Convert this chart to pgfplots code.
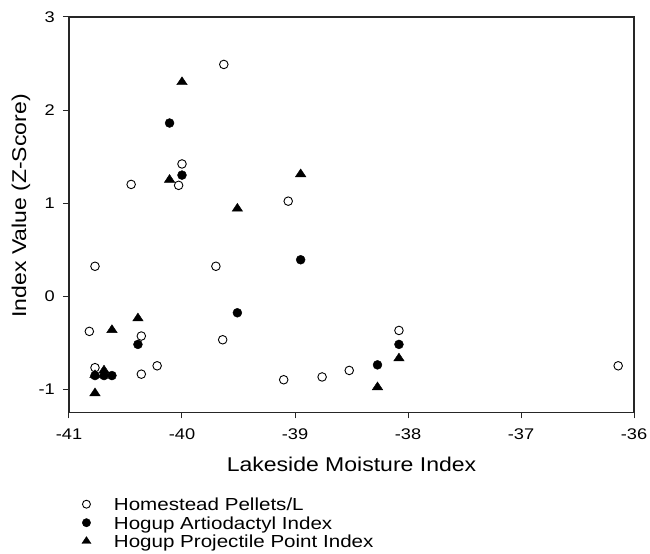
\documentclass[border=0pt]{standalone}
\usepackage{fontspec}
\setmainfont{Liberation Sans}
\newfontfamily\tickfont[FakeStretch=1.18]{Liberation Sans}
\newfontfamily\labfont[FakeStretch=1.155]{Liberation Sans}
\newfontfamily\legfont[FakeStretch=1.18]{Liberation Sans}
\usepackage{pgfplots}
\pgfplotsset{compat=1.18}

% one mark per legend row, raised to the middle of the text line
\pgfplotsset{
  markkey/.style={legend image code/.code={%
    \path (-5bp,0bp) (27bp,0bp);
    \draw[##1] plot coordinates {(0bp,6.5bp)};}},
}

\begin{document}
\begin{tikzpicture}
\useasboundingbox (-69bp,-141.7bp) rectangle (581bp,412.3bp);
\begin{axis}[
  at={(0,0)}, anchor=south west,
  scale only axis,
  width=565bp, height=395.3bp,
  xmin=-41, xmax=-36,
  ymin=-1.25, ymax=3,
  xtick={-41,-40,-39,-38,-37,-36},
  ytick={-1,0,1,2,3},
  tick pos=left,
  tick align=outside,
  major tick length=6bp,
  axis line style={black!85, line width=1.1bp},
  tick style={black!85, line width=1bp},
  /pgf/number format/assume math mode=true,
  ticklabel style={font=\tickfont\fontsize{15.5}{18}\selectfont, inner sep=0pt},
  xticklabel style={yshift=-10bp},
  yticklabel style={xshift=-8bp},
  xlabel={Lakeside Moisture Index},
  ylabel={Index Value (Z-Score)},
  xlabel style={font=\labfont\fontsize{20}{23}\selectfont,
    at={(axis description cs:0.5,0)}, anchor=base, yshift=-58.7bp},
  ylabel style={font=\labfont\fontsize{20}{23}\selectfont,
    at={(axis description cs:-0.0761,0.522)}, anchor=base},
  legend style={
    at={(axis description cs:0,0)}, anchor=north west,
    xshift=12bp, yshift=-85.9bp,
    draw=none, fill=none, inner sep=0pt, outer sep=0pt,
    font=\legfont\fontsize{17.5}{20}\selectfont,
    nodes={inner sep=0pt, text height=12.5bp, text depth=3.6bp},
    cells={anchor=base west},
    column sep=0pt, row sep=2.4bp,
  },
]
% Homestead pellets per litre
\addplot[only marks, mark=o, mark size=4.3pt, line width=0.9bp, black,
  markkey, legend image post style={mark size=4pt}] coordinates {
  (-39.63,2.49) (-40.00,1.42) (-40.45,1.20) (-40.03,1.19) (-39.06,1.02)
  (-40.77,0.32) (-39.70,0.32) (-40.82,-0.38) (-40.36,-0.43) (-39.64,-0.47)
  (-40.77,-0.77) (-40.22,-0.75) (-40.36,-0.84) (-39.10,-0.90) (-38.76,-0.87)
  (-38.08,-0.37) (-36.14,-0.75) (-38.52,-0.80)
};
\addlegendentry{Homestead Pellets/L}
% Hogup artiodactyl index
\addplot[only marks, mark=*, mark size=4.5pt, black,
  markkey, legend image post style={mark size=4.2pt}] coordinates {
  (-40.11,1.86) (-40.00,1.30) (-38.95,0.39) (-39.51,-0.18) (-40.39,-0.52)
  (-40.77,-0.855) (-40.69,-0.855) (-40.62,-0.855) (-38.08,-0.52) (-38.27,-0.74)
};
\addlegendentry{Hogup Artiodactyl Index}
% Hogup projectile point index
\addplot[only marks, mark=triangle*, mark size=5.3pt, black,
  mark options={xscale=1.15},
  markkey, legend image post style={mark size=4.6pt}] coordinates {
  (-40.00,2.30) (-40.11,1.25) (-39.51,0.94) (-38.95,1.31)
  (-40.39,-0.24) (-40.62,-0.365) (-40.77,-1.045) (-40.69,-0.80) (-40.77,-0.85)
  (-38.08,-0.67) (-38.27,-0.98)
};
\addlegendentry{Hogup Projectile Point Index}
\end{axis}
\end{tikzpicture}
\end{document}
